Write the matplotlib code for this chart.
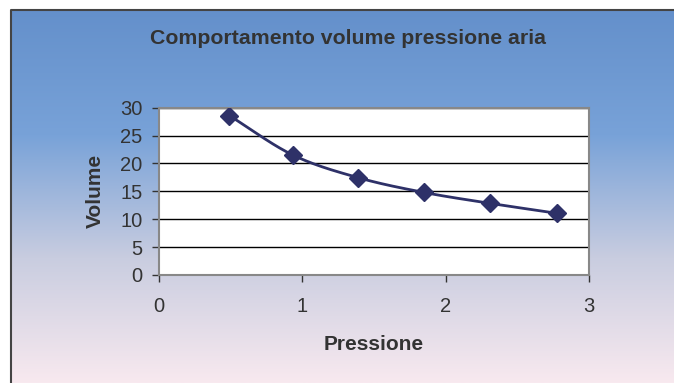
import numpy as np
import matplotlib.pyplot as plt
from matplotlib.colors import LinearSegmentedColormap

plt.rcParams['font.family'] = ['Liberation Sans', 'DejaVu Sans']

# dati: pressione / volume
pressione = [0.49, 0.935, 1.39, 1.85, 2.31, 2.78]
volume = [28.6, 21.5, 17.45, 14.8, 12.85, 11.05]

x_ticks = [0, 1, 2, 3]
y_ticks = [0, 5, 10, 15, 20, 25, 30]


def curva_liscia(x, y, n=30):
    # spline Catmull-Rom tra i punti (come "linea smussata")
    px = np.concatenate([[2 * x[0] - x[1]], x, [2 * x[-1] - x[-2]]])
    py = np.concatenate([[2 * y[0] - y[1]], y, [2 * y[-1] - y[-2]]])
    xs, ys = [], []
    t = np.linspace(0, 1, n)
    for i in range(1, len(px) - 2):
        for p, out in ((px, xs), (py, ys)):
            p0, p1, p2, p3 = p[i - 1], p[i], p[i + 1], p[i + 2]
            out.extend(0.5 * (2 * p1 + (-p0 + p2) * t
                              + (2 * p0 - 5 * p1 + 4 * p2 - p3) * t ** 2
                              + (-p0 + 3 * p1 - 3 * p2 + p3) * t ** 3))
    return np.array(xs), np.array(ys)


W, H = 674, 383
fig = plt.figure(figsize=(W / 100, H / 100), dpi=100, facecolor='white')

# sfondo a gradiente con cornice
bg = fig.add_axes([0, 0, 1, 1])
bg.set_xlim(0, W)
bg.set_ylim(H, 0)
bg.axis('off')
cmap = LinearSegmentedColormap.from_list('sfondo', ['#6490cb', '#78a2d8', '#c9cde0', '#f8e9ef'])
grad = np.linspace(0, 1, 256).reshape(-1, 1)
bg.imshow(grad, cmap=cmap, aspect='auto', extent=[11, W, H, 10])
bg.plot([11, 11, W], [H, 10, 10], color='#444444', lw=1.5)

ax = fig.add_axes([159 / W, 1 - 275 / H, 430 / W, 167.3 / H])
ax.set_facecolor('white')
ax.set_xlim(0, 3)
ax.set_ylim(0, 30)
ax.set_xticks(x_ticks)
ax.set_yticks(y_ticks)
ax.grid(axis='y', color='black', lw=1)
ax.set_axisbelow(True)
for s in ax.spines.values():
    s.set_color('#888888')
    s.set_linewidth(1.5)
ax.tick_params(direction='out', length=5, width=1, color='#333333',
               labelsize=14.5, labelcolor='#333333')
ax.tick_params(axis='y', pad=7)
ax.tick_params(axis='x', pad=11)

xs, ys = curva_liscia(np.array(pressione), np.array(volume))
ax.plot(xs, ys, color='#2e3168', lw=2, zorder=3)
ax.plot(pressione, volume, ls='none', marker='D', ms=9, color='#2e3168', zorder=4)

fig.text(374 / W, 1 - 345 / H, 'Pressione', ha='center', va='center',
         fontsize=15, fontweight='bold', color='#333333')
fig.text(95 / W, 1 - 191 / H, 'Volume', ha='center', va='center', rotation=90,
         fontsize=15, fontweight='bold', color='#333333')
fig.text(348 / W, 1 - 38 / H, 'Comportamento volume pressione aria', ha='center', va='center',
         fontsize=15.3, fontweight='bold', color='#333333')

fig.savefig('out.png', dpi=100)
